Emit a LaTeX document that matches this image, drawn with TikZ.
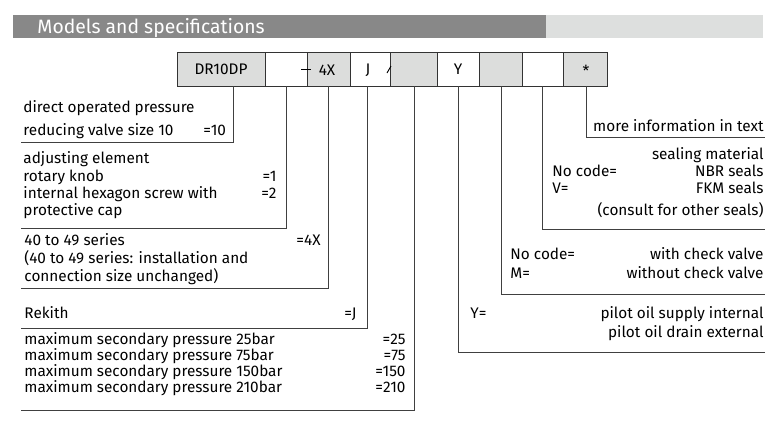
\documentclass[tikz,border=0pt]{standalone}
\usepackage{fontspec}
\setmainfont{Fira Sans}
\usepackage{tikz}
\definecolor{headdark}{HTML}{888888}
\definecolor{headlight}{HTML}{DDDFDE}
\definecolor{codegray}{HTML}{DCDDDC}

\begin{document}
\begin{tikzpicture}[
        x=0.75pt, y=-0.75pt,
        line width=0.7pt,
        txt/.style={inner sep=0pt, anchor=base west, font=\fontsize{11.5}{13}\selectfont},
        rtxt/.style={txt, anchor=base east},
        lead/.style={draw=black!75}
        ]
        \useasboundingbox (0,0) rectangle (782,426);
        % header
        \fill[headdark] (13,15) rectangle (546,38);
        \fill[headlight] (546,15) rectangle (763,38);
        \node[txt, white, font=\fontsize{14.5}{16}\selectfont] (title) at (37,33) {Models and specifications};

        % code boxes
        \foreach \xa/\xb/\fl in {177/265/codegray, 265/307/white, 307/350/codegray, 350/390/white,
                                 390/437/codegray, 437/479/white, 479/522/codegray, 522/563/white, 563/607/codegray}
            \filldraw[fill=\fl, draw=black!80] (\xa,52) rectangle (\xb,86);
        \node[txt, anchor=center] (dr) at (221,69) {DR10DP};
        \draw (301,69) -- (311,69);
        \node[txt, anchor=center] (ser) at (327,70) {4X};
        \node[txt, anchor=center] (j) at (368,70) {J};
        \draw (387,73) -- (391,66);
        \node[txt, anchor=center] (y) at (458,69) {Y};
        \node[txt, anchor=center] (star) at (586,71) {*};

        % coordinates of the leads
        \coordinate (t1) at (233,86);
        \coordinate (t2) at (286,86);
        \coordinate (t3) at (328,86);
        \coordinate (t4) at (367,86);
        \coordinate (t5) at (414,86);
        \coordinate (t6) at (458,86);
        \coordinate (t7) at (501,86);
        \coordinate (t8) at (542,86);
        \coordinate (t9) at (586,86);

        \draw[lead] (t1) |- (21,142);
        \draw[lead] (t2) |- (21,228);
        \draw[lead] (t3) |- (21,288);
        \draw[lead] (t4) |- (21,328);
        \draw[lead] (t5) |- (21,410);
        \draw[lead] (t6) |- (765,352);
        \draw[lead] (t7) |- (765,294);
        \draw[lead] (t8) |- (765,229);
        \draw[lead] (t9) |- (765,137);

        % left texts
        \node[txt] (a1) at (23,112) {direct operated pressure};
        \node[txt] (a2) at (23,135) {reducing valve size 10};
        \node[txt] (a3) at (203,135) {=10};
        \node[txt] (b1) at (23,163) {adjusting element};
        \node[txt] (b2) at (23,181) {rotary knob};
        \node[txt] (b3) at (23,198) {internal hexagon screw with};
        \node[txt] (b4) at (23,215) {protective cap};
        \node[rtxt] (b5) at (277,181) {=1};
        \node[rtxt] (b6) at (277,198) {=2};
        \node[txt] (c1) at (24,245) {40 to 49 series};
        \node[txt] (c2) at (24,263) {(40 to 49 series: installation and};
        \node[txt] (c3) at (24,281) {connection size unchanged)};
        \node[rtxt] (c4) at (321,245) {=4X};
        \node[txt] (d1) at (24,318) {Rekith};
        \node[rtxt] (d2) at (357,318) {=J};
        \node[txt] (e1) at (24,344) {maximum secondary pressure 25bar};
        \node[txt] (e2) at (24,360) {maximum secondary pressure 75bar};
        \node[txt] (e3) at (24,376) {maximum secondary pressure 150bar};
        \node[txt] (e4) at (24,392) {maximum secondary pressure 210bar};
        \node[rtxt] (e5) at (406,344) {=25};
        \node[rtxt] (e6) at (406,360) {=75};
        \node[rtxt] (e7) at (406,376) {=150};
        \node[rtxt] (e8) at (406,392) {=210};

        % right texts
        \node[rtxt] (f1) at (764,131) {more information in text};
        \node[rtxt] (g1) at (764,159) {sealing material};
        \node[rtxt] (g2) at (764,176) {NBR seals};
        \node[rtxt] (g3) at (764,193) {FKM seals};
        \node[rtxt] (g4) at (764,215) {(consult for other seals)};
        \node[txt] (g5) at (552,176) {No code=};
        \node[txt] (g6) at (552,193) {V=};
        \node[rtxt] (h1) at (764,259) {with check valve};
        \node[rtxt] (h2) at (764,278) {without check valve};
        \node[txt] (h3) at (510,259) {No code=};
        \node[txt] (h4) at (510,278) {M=};
        \node[txt] (k1) at (470,318) {Y=};
        \node[rtxt] (k2) at (764,318) {pilot oil supply internal};
        \node[rtxt] (k3) at (764,337) {pilot oil drain external};
    \end{tikzpicture}
\end{document}
